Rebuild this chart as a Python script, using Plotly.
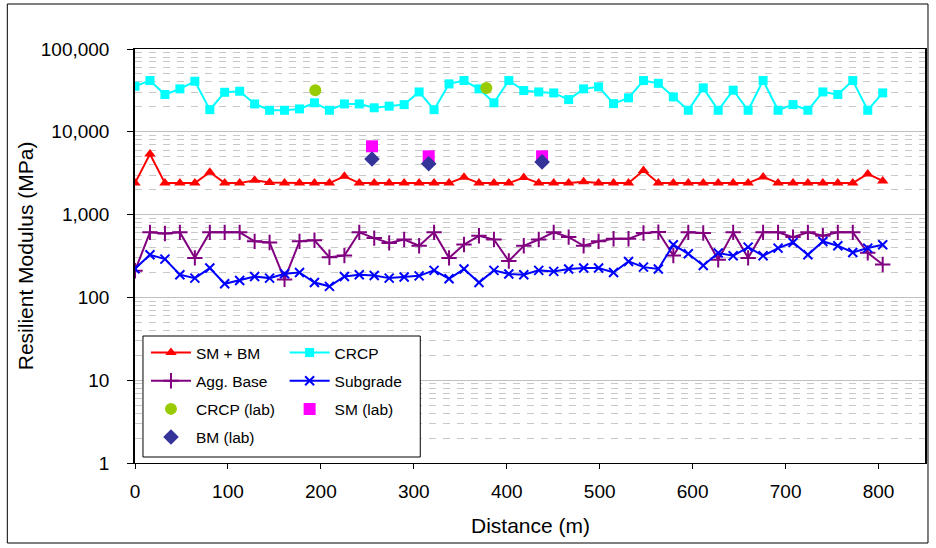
import plotly.graph_objects as go

# Station spacing along the section (m)
STEP = 16.09
distance = [round(i * STEP, 1) for i in range(51)]

crcp = [35500, 41600, 28200, 33000, 40800, 18500, 30000, 30900, 21700, 18200,
        18200, 18900, 22400, 18200, 21700, 21700, 19500, 20400, 21300, 30300,
        18500, 37900, 41600, 33000, 22400, 41600, 31500, 30300, 29500, 24500,
        33000, 34900, 21900, 25700, 41600, 38500, 26400, 18200, 33900, 18200,
        31800, 18200, 41600, 18200, 21300, 18200, 30300, 28200, 41600, 18200,
        29500]

sm_bm = [2400, 5400, 2400, 2400, 2400, 3250, 2400, 2400, 2600, 2450,
         2400, 2400, 2400, 2400, 2900, 2400, 2400, 2400, 2400, 2400,
         2400, 2400, 2820, 2400, 2400, 2400, 2800, 2400, 2400, 2400,
         2500, 2400, 2400, 2400, 3400, 2400, 2400, 2400, 2400, 2400,
         2400, 2400, 2850, 2400, 2400, 2400, 2400, 2400, 2400, 3100,
         2550]

agg_base = [210, 610, 590, 610, 300, 610, 610, 610, 475, 460,
            165, 475, 490, 305, 320, 610, 520, 455, 500, 420,
            610, 300, 435, 555, 500, 275, 420, 500, 610, 535,
            420, 475, 510, 510, 600, 615, 320, 610, 600, 285,
            610, 300, 610, 610, 535, 610, 555, 610, 610, 345,
            250]

subgrade = [222, 327, 290, 188, 171, 226, 146, 160, 179, 171,
            193, 200, 151, 136, 179, 188, 184, 171, 176, 182,
            212, 168, 220, 151, 212, 192, 188, 212, 206, 220,
            226, 226, 200, 272, 232, 220, 433, 336, 243, 344,
            318, 405, 318, 394, 461, 327, 474, 421, 349, 394,
            433]

# Laboratory results
crcp_lab_x = [194, 378]
crcp_lab_y = [31800, 33900]
sm_lab_x = [255, 316, 438]
sm_lab_y = [6680, 5060, 5060]
bm_lab_x = [255, 316, 438]
bm_lab_y = [4700, 4120, 4330]

FONT = "Liberation Sans, Arial, sans-serif"

fig = go.Figure()


def line_trace(name, y, color, symbol, size, legend, group, thin=False):
    marker = dict(symbol=symbol, size=size, color=color)
    if thin:
        marker["line"] = dict(color=color, width=2)
    fig.add_trace(go.Scatter(
        x=distance, y=y, name=name, mode="lines+markers",
        line=dict(color=color, width=2), marker=marker,
        legend=legend, legendgroup=group))


line_trace("SM + BM", sm_bm, "#FF0000", "triangle-up", 10, "legend", "a")
line_trace("CRCP", crcp, "#00FFFF", "square", 9, "legend2", "b")
line_trace("Agg. Base", agg_base, "#800080", "cross-thin", 11, "legend", "c", thin=True)
line_trace("Subgrade", subgrade, "#0000FF", "x-thin", 9, "legend2", "d", thin=True)

fig.add_trace(go.Scatter(x=crcp_lab_x, y=crcp_lab_y, name="CRCP (lab)", mode="markers",
                         marker=dict(symbol="circle", size=12, color="#99CC00"),
                         legend="legend", legendgroup="e"))
fig.add_trace(go.Scatter(x=sm_lab_x, y=sm_lab_y, name="SM (lab)", mode="markers",
                         marker=dict(symbol="square", size=12, color="#FF00FF"),
                         legend="legend2", legendgroup="f"))
fig.add_trace(go.Scatter(x=bm_lab_x, y=bm_lab_y, name="BM (lab)", mode="markers",
                         marker=dict(symbol="diamond", size=12, color="#333399"),
                         legend="legend", legendgroup="g"))

W, H = 936, 548
L, R, T, B = 135, 9, 49, 85
PW, PH = W - L - R, H - T - B


def px_x(p):
    return (p - L) / PW


def px_y(p):
    return (H - B - p) / PH


legend_common = dict(
    font=dict(family=FONT, size=15.5, color="black"),
    bgcolor="rgba(0,0,0,0)", borderwidth=0,
    xanchor="left", yanchor="top", tracegroupgap=5, itemwidth=40,
)

fig.update_layout(
    width=W, height=H,
    margin=dict(l=L, r=R, t=T, b=B),
    paper_bgcolor="white", plot_bgcolor="white",
    font=dict(family=FONT, color="black"),
    showlegend=True,
    legend=dict(x=px_x(146), y=px_y(336), **legend_common),
    legend2=dict(x=px_x(285), y=px_y(336), **legend_common),
    xaxis=dict(
        range=[0, 850], tickmode="linear", tick0=0, dtick=100,
        showgrid=False, zeroline=False,
        showline=True, linecolor="black", linewidth=1, mirror=True,
        ticks="outside", ticklen=5, tickcolor="black",
        tickfont=dict(family=FONT, size=19, color="black"),
        ticklabelstandoff=6,
    ),
    yaxis=dict(
        type="log", range=[0, 5], tickmode="linear", tick0=0, dtick=1,
        tickformat=",", showgrid=True, gridcolor="#c0c0c0", gridwidth=1,
        zeroline=False,
        showline=True, linecolor="black", linewidth=1.5, mirror=True,
        ticks="outside", ticklen=6, tickcolor="black",
        tickfont=dict(family=FONT, size=19, color="black"),
        ticklabelstandoff=14,
        minor=dict(dtick="D1", showgrid=True, gridcolor="#c8c8c8",
                   griddash="7px,7px", gridwidth=1),
    ),
    annotations=[
        dict(text="Distance (m)", xref="paper", yref="paper",
             x=0.5, y=px_y(525), xanchor="center", yanchor="middle",
             showarrow=False, font=dict(family=FONT, size=21, color="black")),
        dict(text="Resilient Modulus (MPa)", xref="paper", yref="paper",
             x=px_x(25), y=0.5, xanchor="center", yanchor="middle",
             textangle=-90, showarrow=False,
             font=dict(family=FONT, size=21, color="black")),
    ],
    shapes=[
        # legend box
        dict(type="rect", xref="paper", yref="paper",
             x0=px_x(143), x1=px_x(421), y0=px_y(457), y1=px_y(336),
             line=dict(color="black", width=1), fillcolor="white", layer="above"),
        # chart frame
        dict(type="rect", xref="paper", yref="paper",
             x0=px_x(7), x1=px_x(930), y0=px_y(543), y1=px_y(4),
             line=dict(color="black", width=1), fillcolor="rgba(0,0,0,0)",
             layer="above"),
    ],
)

fig.write_html("out.html")
